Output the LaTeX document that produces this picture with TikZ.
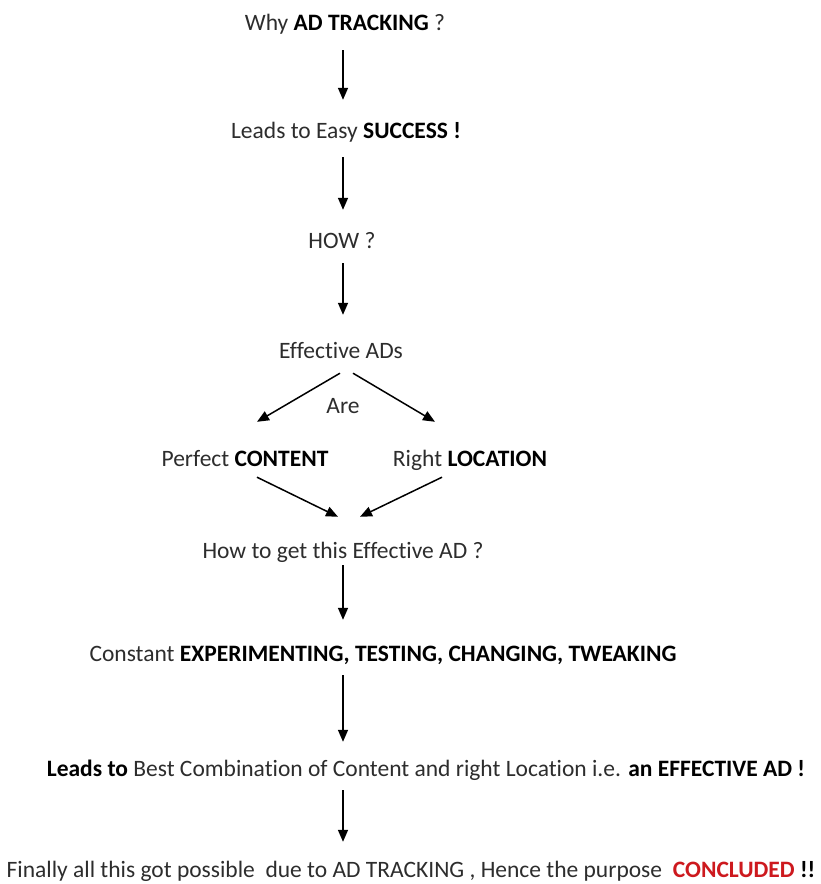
\documentclass[tikz,border=0pt]{standalone}
\usepackage{fontspec}
\setmainfont{Carlito}[Ligatures=NoCommon]
\usetikzlibrary{arrows.meta}
\definecolor{txt}{RGB}{45,45,45}
\definecolor{concl}{RGB}{205,25,30}
\tikzset{
  lbl/.style={inner sep=0pt, text height=15pt, text depth=5pt, text=txt, font=\fontsize{23.5}{27}\selectfont, anchor=center},
  arr/.style={line width=1.5pt, draw=black, -{Triangle[width=10pt,length=12pt]}}
}
\begin{document}
\begin{tikzpicture}[x=1pt,y=-1pt]
\useasboundingbox (0,0) rectangle (821,884);
\fill[white] (0,0) rectangle (821,884);
\coordinate (axis) at (343,0);
\node[lbl] (t1) at (345,25) {Why \textcolor{black}{\textbf{AD TRACKING}} ?};
\node[lbl] (t2) at (346,133) {Leads to Easy \textcolor{black}{\textbf{SUCCESS !}}};
\node[lbl] (t3) at (342,243) {HOW ?};
\node[lbl] (t4) at (341,353) {Effective ADs};
\node[lbl] (are) at (343,408) {Are};
\node[lbl] (pc) at (245,461) {Perfect \textcolor{black}{\textbf{CONTENT}}};
\node[lbl] (rl) at (470,461) {Right \textcolor{black}{\textbf{LOCATION}}};
\node[lbl] (t5) at (343,553) {How to get this Effective AD ?};
\node[lbl] (t6) at (383,656) {Constant \textcolor{black}{\textbf{EXPERIMENTING, TESTING, CHANGING, TWEAKING}}};
\node[lbl] (t7) at (426,771) {\textcolor{black}{\textbf{Leads to}} Best Combination of Content and right Location i.e. \textcolor{black}{\textbf{an EFFECTIVE AD !}}};
\node[lbl] (t8) at (411,872) {Finally all this got possible\ \ due to AD TRACKING , Hence the purpose \ \textcolor{concl}{\textbf{CONCLUDED}} \textcolor{black}{\textbf{!!}}};

\draw[arr, shorten <=15pt, shorten >=23pt] (t1.south -| axis) -- (t2.north -| axis);
\draw[arr, shorten <=14pt, shorten >=23pt] (t2.south -| axis) -- (t3.north -| axis);
\draw[arr, shorten <=10pt, shorten >=28pt] (t3.south -| axis) -- (t4.north -| axis);
\draw[arr] ([shift={(-1,10)}]t4.south) -- ([shift={(12,-29)}]pc.north);
\draw[arr] ([shift={(12,10)}]t4.south) -- ([shift={(-35,-29)}]rl.north);
\draw[arr] ([shift={(12,6)}]pc.south) -- ([shift={(-5,-26)}]t5.north);
\draw[arr] ([shift={(-28,6)}]rl.south) -- ([shift={(17,-26)}]t5.north);
\draw[arr, shorten <=2pt, shorten >=26pt] (t5.south -| axis) -- (t6.north -| axis);
\draw[arr, shorten <=9pt, shorten >=19pt] (t6.south -| axis) -- (t7.north -| axis);
\draw[arr, shorten <=9pt, shorten >=20pt] (t7.south -| axis) -- (t8.north -| axis);
\end{tikzpicture}
\end{document}
